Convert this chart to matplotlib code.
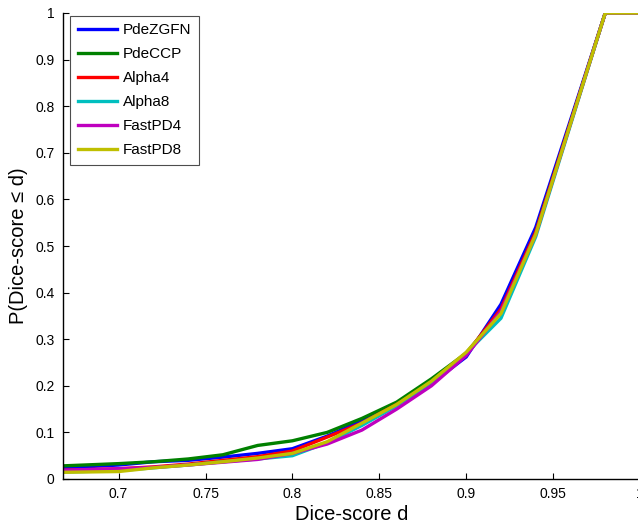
import matplotlib
matplotlib.use("Agg")
import matplotlib.pyplot as plt

# Dice-score thresholds and empirical CDF values per method
dice = [0.66, 0.68, 0.70, 0.72, 0.74, 0.76, 0.78, 0.80, 0.82, 0.84,
        0.86, 0.88, 0.90, 0.92, 0.94, 0.98, 1.00]
pde_zgfn = [0.022, 0.026, 0.030, 0.037, 0.040, 0.047, 0.055, 0.065, 0.092, 0.125,
            0.160, 0.205, 0.262, 0.375, 0.540, 1.0, 1.0]
pde_ccp = [0.027, 0.030, 0.033, 0.037, 0.043, 0.052, 0.072, 0.082, 0.100, 0.130,
           0.165, 0.215, 0.270, 0.360, 0.530, 1.0, 1.0]
alpha4 = [0.018, 0.020, 0.022, 0.026, 0.032, 0.040, 0.048, 0.060, 0.090, 0.120,
          0.160, 0.205, 0.268, 0.365, 0.530, 1.0, 1.0]
alpha8 = [0.014, 0.016, 0.018, 0.024, 0.030, 0.037, 0.043, 0.050, 0.078, 0.115,
          0.157, 0.208, 0.270, 0.345, 0.520, 1.0, 1.0]
fastpd4 = [0.018, 0.020, 0.022, 0.025, 0.030, 0.036, 0.042, 0.055, 0.075, 0.105,
           0.150, 0.200, 0.265, 0.360, 0.525, 1.0, 1.0]
fastpd8 = [0.014, 0.015, 0.016, 0.024, 0.030, 0.037, 0.045, 0.055, 0.080, 0.120,
           0.160, 0.210, 0.272, 0.355, 0.525, 1.0, 1.0]

names = ["PdeZGFN", "PdeCCP", "Alpha4", "Alpha8", "FastPD4", "FastPD8"]
series = [pde_zgfn, pde_ccp, alpha4, alpha8, fastpd4, fastpd8]
colors = ["#0000ff", "#008000", "#ff0000", "#00bfbf", "#bf00bf", "#bfbf00"]

xticks = [0.7, 0.75, 0.8, 0.85, 0.9, 0.95, 1]
xticklabels = ["0.7", "0.75", "0.8", "0.85", "0.9", "0.95", "1"]
yticks = [0, 0.1, 0.2, 0.3, 0.4, 0.5, 0.6, 0.7, 0.8, 0.9, 1]
yticklabels = ["0", "0.1", "0.2", "0.3", "0.4", "0.5", "0.6", "0.7", "0.8", "0.9", "1"]

plt.rcParams["font.family"] = ["Liberation Sans", "DejaVu Sans"]

fig = plt.figure(figsize=(6.38, 5.30), dpi=100)
ax = fig.add_axes([63 / 638, 51 / 530, 577 / 638, 466 / 530])

for name, ys, c in zip(names, series, colors):
    ax.plot(dice, ys, color=c, lw=2.4, label=name)

ax.set_xlim(0.668, 1.0)
ax.set_ylim(0, 1)
ax.set_xticks(xticks)
ax.set_xticklabels(xticklabels)
ax.set_yticks(yticks)
ax.set_yticklabels(yticklabels)
ax.tick_params(direction="in", length=4, width=0.8, labelsize=10, pad=6)
for s in ("top", "right"):
    ax.spines[s].set_visible(False)
for s in ("left", "bottom"):
    ax.spines[s].set_linewidth(1.0)

ax.set_xlabel("Dice-score d", fontsize=14.5, labelpad=3)
ax.set_ylabel("P(Dice-score \u2264 d)", fontsize=14.5, labelpad=5)

leg = ax.legend(loc="upper left", bbox_to_anchor=(0.012, 0.994), fontsize=11,
                handlelength=2.6, handletextpad=0.35, labelspacing=0.65,
                borderpad=0.5, borderaxespad=0, fancybox=False, framealpha=1)
leg.get_frame().set_edgecolor("0.3")
leg.get_frame().set_linewidth(0.8)

fig.savefig("out.png", dpi=100, facecolor="white")
plt.close(fig)
